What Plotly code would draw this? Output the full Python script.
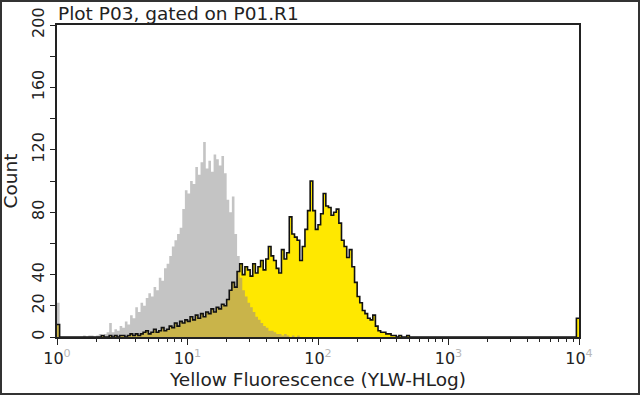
import numpy as np
import plotly.graph_objects as go

# ---- data (histogram channels, log10 scale, 0.02 decade per channel) ----
BIN_STEP = 0.02
N_BINS = 200

gray_start_log = 0.20
gray_counts = [1, 0, 1, 1, 0, 1, 2, 1, 2, 3,
               9, 3, 5, 4, 7, 6, 10, 8, 14, 12,
               19, 16, 22, 20, 25, 28, 26, 32, 30, 38,
               36, 44, 47, 52, 58, 62, 66, 70, 82, 94,
               92, 100, 98, 109, 104, 112, 125, 108, 113, 106,
               117, 114, 110, 116, 105, 88, 80, 90, 66, 52,
               38, 30, 26, 22, 19, 16, 13, 11, 9, 7,
               6, 4, 4, 3, 2, 2, 1, 2, 1, 0,
               1, 0, 1]

yellow_start_log = 0.30
yellow_counts = [0, 0, 1, 0, 0, 1, 0, 1, 0, 1,
                 1, 0, 1, 2, 1, 2, 1, 2, 3, 4,
                 2, 3, 5, 3, 4, 6, 4, 5, 7, 6,
                 9, 7, 10, 9, 11, 10, 13, 11, 14, 12,
                 15, 13, 16, 15, 18, 16, 19, 18, 21, 20,
                 24, 30, 35, 32, 42, 47, 40, 45, 43, 39,
                 47, 41, 45, 49, 43, 50, 58, 52, 49, 44,
                 41, 56, 50, 54, 77, 66, 64, 62, 49, 58,
                 69, 81, 100, 81, 69, 72, 79, 92, 84, 83,
                 78, 80, 82, 73, 62, 58, 51, 56, 45, 35,
                 26, 22, 17, 15, 12, 11, 14, 7, 4, 3,
                 3, 2, 2, 1, 1, 0, 1, 0, 0, 1,
                 0]

gray_first_channel = 22
yellow_first_channel = 8
yellow_last_channel = 12

x_tick_exponents = [0, 1, 2, 3, 4]
y_tick_values = [0, 20, 40, 60, 80, 100, 120, 140, 160, 180, 200]
y_tick_labels = ["0", "20", "40", "", "80", "", "120", "", "160", "", "200"]


def full_hist(start_log, counts, first=0, last=0):
    arr = np.zeros(N_BINS)
    i0 = int(round(start_log / BIN_STEP))
    arr[i0:i0 + len(counts)] = counts
    if first:
        arr[0] = first
    if last:
        arr[-1] = last
    return arr


gray = full_hist(gray_start_log, gray_counts, first=gray_first_channel)
yellow = full_hist(yellow_start_log, yellow_counts,
                   first=yellow_first_channel, last=yellow_last_channel)
overlap = np.minimum(gray, yellow)

edges = 10 ** (np.arange(N_BINS + 1) * BIN_STEP)


def step_y(arr):
    return np.append(arr, arr[-1])


fig = go.Figure()
fig.add_trace(go.Scatter(x=edges, y=step_y(gray), mode="lines", line_shape="hv",
                         line=dict(width=0, color="#C4C4C4"), fill="tozeroy",
                         fillcolor="#C4C4C4", hoverinfo="skip", showlegend=False))
fig.add_trace(go.Scatter(x=edges, y=step_y(yellow), mode="lines", line_shape="hv",
                         line=dict(width=0, color="#FFE800"), fill="tozeroy",
                         fillcolor="#FFE800", hoverinfo="skip", showlegend=False))
fig.add_trace(go.Scatter(x=edges, y=step_y(overlap), mode="lines", line_shape="hv",
                         line=dict(width=0, color="#C9B44A"), fill="tozeroy",
                         fillcolor="#C9B44A", hoverinfo="skip", showlegend=False))
fig.add_trace(go.Scatter(x=edges, y=step_y(yellow), mode="lines", line_shape="hv",
                         line=dict(width=1.6, color="#111111"),
                         hoverinfo="skip", showlegend=False))

minor_vals = [m * 10 ** d for d in range(4) for m in range(2, 10)]

font_family = "DejaVu Sans"
fig.update_layout(
    width=640, height=395,
    margin=dict(l=57, r=61, t=25, b=58, autoexpand=False),
    paper_bgcolor="white", plot_bgcolor="white",
    font=dict(family=font_family, size=16, color="#222"),
    title=dict(text="Plot P03, gated on P01.R1", x=58 / 640, xanchor="left",
               xref="container", y=1 - 14 / 395, yref="container", yanchor="middle",
               automargin=False,
               font=dict(size=18.5, color="#222", family=font_family)),
    xaxis=dict(type="log", range=[0, 4], automargin=False,
               tickvals=[10 ** e for e in x_tick_exponents],
               ticktext=[f"10<sup><span style='color:#b8b8b8'>{e}</span></sup>"
                         for e in x_tick_exponents],
               ticks="outside", ticklen=6, tickwidth=1, tickcolor="#222",
               minor=dict(tickvals=minor_vals, ticks="outside", ticklen=3,
                          tickcolor="#222"),
               showline=True, linecolor="#222", linewidth=1.5, mirror=True,
               showgrid=False, zeroline=False,
               tickfont=dict(size=16),
               title=dict(text="Yellow Fluorescence (YLW-HLog)", standoff=6,
                          font=dict(size=18.5))),
    yaxis=dict(range=[0, 200], tickvals=y_tick_values, ticktext=y_tick_labels,
               automargin=False,
               tickangle=-90, ticks="outside", ticklen=5, tickcolor="#222",
               showline=True, linecolor="#222", linewidth=1.5, mirror=True,
               showgrid=False, zeroline=False, tickfont=dict(size=16),
               title=dict(text="Count", standoff=6, font=dict(size=18.5))),
)

pw, ph = 640 - 57 - 61, 395 - 25 - 58
fig.add_shape(type="rect", xref="paper", yref="paper",
              x0=(-57 + 1) / pw, x1=(640 - 57 - 1) / pw,
              y0=-(58 - 1) / ph, y1=(ph + 25 - 1) / ph,
              line=dict(color="#333", width=2), layer="above")

fig.write_html("out.html", config={"displayModeBar": False},
               post_script="document.body.style.margin='0px';document.body.style.padding='0px';")
